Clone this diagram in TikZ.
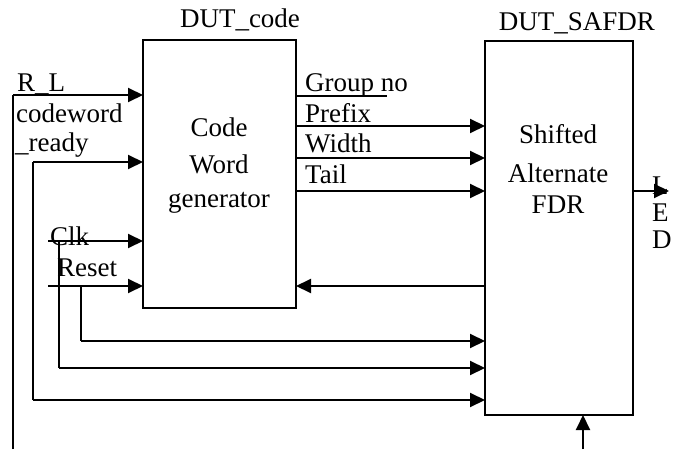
\documentclass[tikz,border=0pt]{standalone}
\usepackage{fontspec}
\setmainfont{Liberation Serif}
\usetikzlibrary{arrows.meta,calc}
\begin{document}
\begin{tikzpicture}[x=1pt,y=-1pt,
  box/.style={draw,line width=1.4pt,rectangle,inner sep=0pt,outer sep=0pt},
  arr/.style={line width=2pt,-{Triangle[length=15pt,width=14pt]}},
  vwire/.style={line width=1.3pt},
  lbl/.style={font=\fontsize{27}{30}\selectfont,inner sep=0pt,anchor=base west},
  clbl/.style={font=\fontsize{27}{30}\selectfont,inner sep=0pt,anchor=base}]
\useasboundingbox (0,0) rectangle (676,449);
\node[box,minimum width=153pt,minimum height=268pt] (code) at (219.5,174) {};
\node[box,minimum width=148pt,minimum height=374pt] (safdr) at (559,228) {};
% titles
\node[clbl] (t1) at (240,28) {DUT\_code};
\node[clbl] (t2) at (577,31) {DUT\_SAFDR};
% box texts
\node[clbl] (c1) at (219,137) {Code};
\node[clbl] (c2) at (219,173) {Word};
\node[clbl] (c3) at (219,207) {generator};
\node[clbl] (s1) at (558,143) {Shifted};
\node[clbl] (s2) at (558,182) {Alternate};
\node[clbl] (s3) at (558,213) {FDR};
% left labels
\node[lbl] (rl) at (17,92) {R\_L};
\node[lbl] (cw) at (16,123) {codeword};
\node[lbl] (rd) at (15,151) {\_ready};
\node[lbl] (clk) at (50,245) {Clk};
\node[lbl] (rst) at (57,276) {Reset};
% right labels of code
\node[lbl] (gn) at (305,92) {Group no};
\node[lbl] (pf) at (305,123) {Prefix};
\node[lbl] (wd) at (305,153) {Width};
\node[lbl] (tl) at (305,183) {Tail};
% LED
\node[lbl] (l1) at (652,194) {L};
\node[lbl] (l2) at (652,221) {E};
\node[lbl] (l3) at (652,248) {D};
% coordinates
\coordinate (rlS) at (13,95);
\coordinate (rlB) at (13,449);
\coordinate (cwS) at (33,162);
\coordinate (cwB) at (33,400);
\coordinate (clkS) at (48,241);
\coordinate (clkT) at (59,241);
\coordinate (clkB) at (59,368);
\coordinate (rstS) at (48,286);
\coordinate (rstT) at (81,286);
\coordinate (rstB) at (81,341);
\coordinate (gnE) at (387,96);
\coordinate (ledE) at (669,191);
\coordinate (botS) at (583,449);
% left inputs
\draw[vwire] (rlB) -- (rlS);
\draw[arr] (rlS) -- (rlS -| code.west);
\draw[vwire] (cwB) -- (cwS);
\draw[arr] (cwS) -- (cwS -| code.west);
\draw[arr] (cwB) -- (cwB -| safdr.west);
\draw[arr] (clkS) -- (clkS -| code.west);
\draw[vwire] (clkT) -- (clkB);
\draw[arr] (clkB) -- (clkB -| safdr.west);
\draw[arr] (rstS) -- (rstS -| code.west);
\draw[vwire] (rstT) -- (rstB);
\draw[arr] (rstB) -- (rstB -| safdr.west);
% code outputs
\draw[vwire] (gnE -| code.east) -- (gnE);
\draw[arr] (code.east |- 0,126) -- (safdr.west |- 0,126);
\draw[arr] (code.east |- 0,158) -- (safdr.west |- 0,158);
\draw[arr] (code.east |- 0,191) -- (safdr.west |- 0,191);
% feedback
\draw[arr] (safdr.west |- 0,286) -- (code.east |- 0,286);
% LED out
\draw[arr] (ledE -| safdr.east) -- (ledE);
% bottom input
\draw[arr] (botS) -- (botS |- safdr.south);
\end{tikzpicture}
\end{document}
